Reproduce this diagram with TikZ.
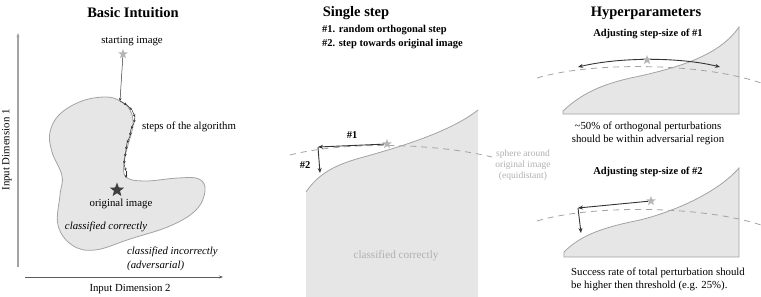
\documentclass[tikz,border=0pt]{standalone}
\usepackage{fontspec}
\setmainfont{Liberation Serif}
\usetikzlibrary{shapes.geometric,arrows.meta}
\definecolor{regfill}{HTML}{E6E6E7}
\definecolor{regline}{HTML}{A3A3A3}
\definecolor{lightstar}{HTML}{B5B5B5}
\definecolor{darkstar}{HTML}{404040}
\definecolor{arrowc}{HTML}{333333}
\definecolor{lighttext}{HTML}{B0B0B0}
\tikzset{
  titletext/.style={font=\fontsize{14.5}{16}\selectfont\bfseries, inner sep=0pt},
  subtitle/.style={font=\fontsize{10.5}{12}\selectfont\bfseries, inner sep=0pt},
  bodytext/.style={font=\fontsize{10.8}{13}\selectfont, inner sep=0pt},
  smalltext/.style={font=\fontsize{9.5}{11}\selectfont, inner sep=0pt, text=lighttext},
  region/.style={fill=regfill, draw=regline, line width=0.8pt},
  sphere/.style={draw=regline, dashed, dash pattern=on 6pt off 5pt, line width=0.8pt},
  stepar/.style={draw=arrowc, line width=0.9pt, -{Stealth[length=5pt,width=4pt]}},
  tinyar/.style={draw=arrowc, line width=0.5pt, -{Stealth[length=3pt,width=2.6pt]}},
  starlight/.style={star, star points=5, star point ratio=2.4, fill=lightstar, draw=none, minimum size=10pt, inner sep=0pt},
  stardark/.style={star, star points=5, star point ratio=2.4, fill=darkstar, draw=none, minimum size=15pt, inner sep=0pt},
}
\begin{document}
\begin{tikzpicture}[x=1pt,y=-1pt]
\useasboundingbox (0,0) rectangle (761,297);

% ================= Left panel =================
\node[titletext] (t1) at (133,13) {Basic Intuition};
\coordinate (vaxb) at (18,267);
\coordinate (vaxt) at (18,33);
\draw[draw=regline, line width=1.2pt, -{Stealth[length=4pt,width=3pt]}] (vaxb) -- (vaxt);
\coordinate (haxl) at (25,277);
\coordinate (haxr) at (223,277);
\draw[draw=arrowc!80, line width=0.7pt, -{Stealth[length=4pt,width=3pt]}] (haxl) -- (haxr);
\node[bodytext, rotate=90] (d1) at (7,150) {Input Dimension 1};
\node[bodytext] (d2) at (130,289) {Input Dimension 2};

\draw[region] plot[smooth cycle, tension=0.65] coordinates {
 (120,101) (130,110) (133,125) (128,145) (124,162) (126,177) (145,181) (178,178) (199,179) (205,191)
 (196,210) (170,226) (130,239) (95,250) (72,245) (58,225) (60,195) (62,176) (52,152) (50,132) (60,114) (82,101) (106,97)};

\node[starlight] (sstar) at (123,54) {};
\node[bodytext] (stxt) at (132,41) {starting image};
\coordinate (p0) at (120,101);
\draw[tinyar] (sstar) -- (p0);
\coordinate (q1) at (127,105);
\coordinate (q2) at (132,110);
\coordinate (q3) at (135,117);
\coordinate (q4) at (134,123);
\coordinate (q5) at (131,129);
\coordinate (q6) at (130,136);
\coordinate (q7) at (127,143);
\coordinate (q8) at (126,150);
\coordinate (q9) at (125,157);
\coordinate (q10) at (124,164);
\coordinate (q11) at (126,171);
\coordinate (q12) at (126,178);
\draw[tinyar] (p0) -- (q1);
\draw[tinyar] (q1) -- (q2);
\draw[tinyar] (q2) -- (q3);
\draw[tinyar] (q3) -- (q4);
\draw[tinyar] (q4) -- (q5);
\draw[tinyar] (q5) -- (q6);
\draw[tinyar] (q6) -- (q7);
\draw[tinyar] (q7) -- (q8);
\draw[tinyar] (q8) -- (q9);
\draw[tinyar] (q9) -- (q10);
\draw[tinyar] (q10) -- (q11);
\draw[tinyar] (q11) -- (q12);
\node[bodytext] (alg) at (189,127) {steps of the algorithm};

\node[stardark] (ostar) at (117,190) {};
\node[bodytext] (otxt) at (121,204) {original image};
\node[bodytext, font=\fontsize{10.8}{13}\selectfont\itshape] (cc) at (106,227) {classified correctly};
\node[bodytext, font=\fontsize{10.8}{13}\selectfont\itshape, anchor=west] (ci) at (127,252) {classified incorrectly};
\node[bodytext, font=\fontsize{10.8}{13}\selectfont\itshape, anchor=west] (ad) at (127,266) {(adversarial)};

% ================= Middle panel =================
\node[titletext] (t2) at (356,13) {Single step};
\node[subtitle, anchor=west] (s1) at (322,30) {\#1. random orthogonal step};
\node[subtitle, anchor=west] (s2) at (322,44) {\#2. step towards original image};

\fill[regfill] (306,297) -- (306,192) .. controls (318,174) and (335,165) .. (360,158) .. controls (400,147) and (450,132) .. (478,110) -- (478,297) -- cycle;
\draw[draw=regline, line width=0.8pt] (306,192) .. controls (318,174) and (335,165) .. (360,158) .. controls (400,147) and (450,132) .. (478,110);
\coordinate (ma) at (290,155);
\coordinate (mb) at (492,157);
\draw[sphere] (ma) .. controls (340,142) and (430,142) .. (mb);
\node[starlight] (mstar) at (387,144) {};
\coordinate (m1) at (318,147);
\coordinate (m2) at (320,173);
\draw[stepar] (mstar) -- (m1);
\draw[stepar] (m1) -- (m2);
\node[subtitle] (l1) at (352,135) {\#1};
\node[subtitle] (l2) at (305,165) {\#2};
\node[smalltext, align=center] (sph) at (523,165) {sphere around\\original image\\(equidistant)};
\node[bodytext, text=lighttext, font=\fontsize{11.2}{13}\selectfont] (mcc) at (396,256) {classified correctly};

% ================= Right panel =================
\node[titletext] (t3) at (646,13) {Hyperparameters};
\node[subtitle] (h1) at (648,34) {Adjusting step-size of \#1};
\draw[region] (563,114) -- (563,111) .. controls (585,90) and (610,82) .. (640,76) .. controls (680,67) and (720,55) .. (739,27) -- (739,114) -- cycle;
\coordinate (ra) at (537,78);
\coordinate (rb) at (761,83);
\draw[sphere] (ra) .. controls (590,62) and (700,62) .. (rb);
\coordinate (r1) at (578,67);
\coordinate (r2) at (720,67);
\draw[draw=arrowc, line width=0.9pt, {Stealth[length=5pt,width=4pt]}-{Stealth[length=5pt,width=4pt]}] (r1) .. controls (620,57) and (680,57) .. (r2);
\node[starlight] (rstar) at (647,60) {};
\node[bodytext, align=center] (h1t) at (648,133) {\textasciitilde50\% of orthogonal perturbations\\should be within adversarial region};

\node[subtitle] (h2) at (648,172) {Adjusting step-size of \#2};
\draw[region] (564,257) -- (564,252) .. controls (580,236) and (600,228) .. (640,220) .. controls (680,210) and (720,190) .. (739,168) -- (739,257) -- cycle;
\coordinate (rc) at (537,221);
\coordinate (rd) at (761,225);
\draw[sphere] (rc) .. controls (590,205) and (700,205) .. (rd);
\node[starlight] (r2star) at (651,201) {};
\coordinate (s1a) at (578,208);
\coordinate (s2a) at (581,233);
\draw[stepar] (r2star) -- (s1a);
\draw[stepar] (s1a) -- (s2a);
\node[bodytext, align=left, anchor=west] (h2t) at (571,279) {Success rate of total perturbation should\\be higher then threshold (e.g. 25\%).};
\end{tikzpicture}
\end{document}
